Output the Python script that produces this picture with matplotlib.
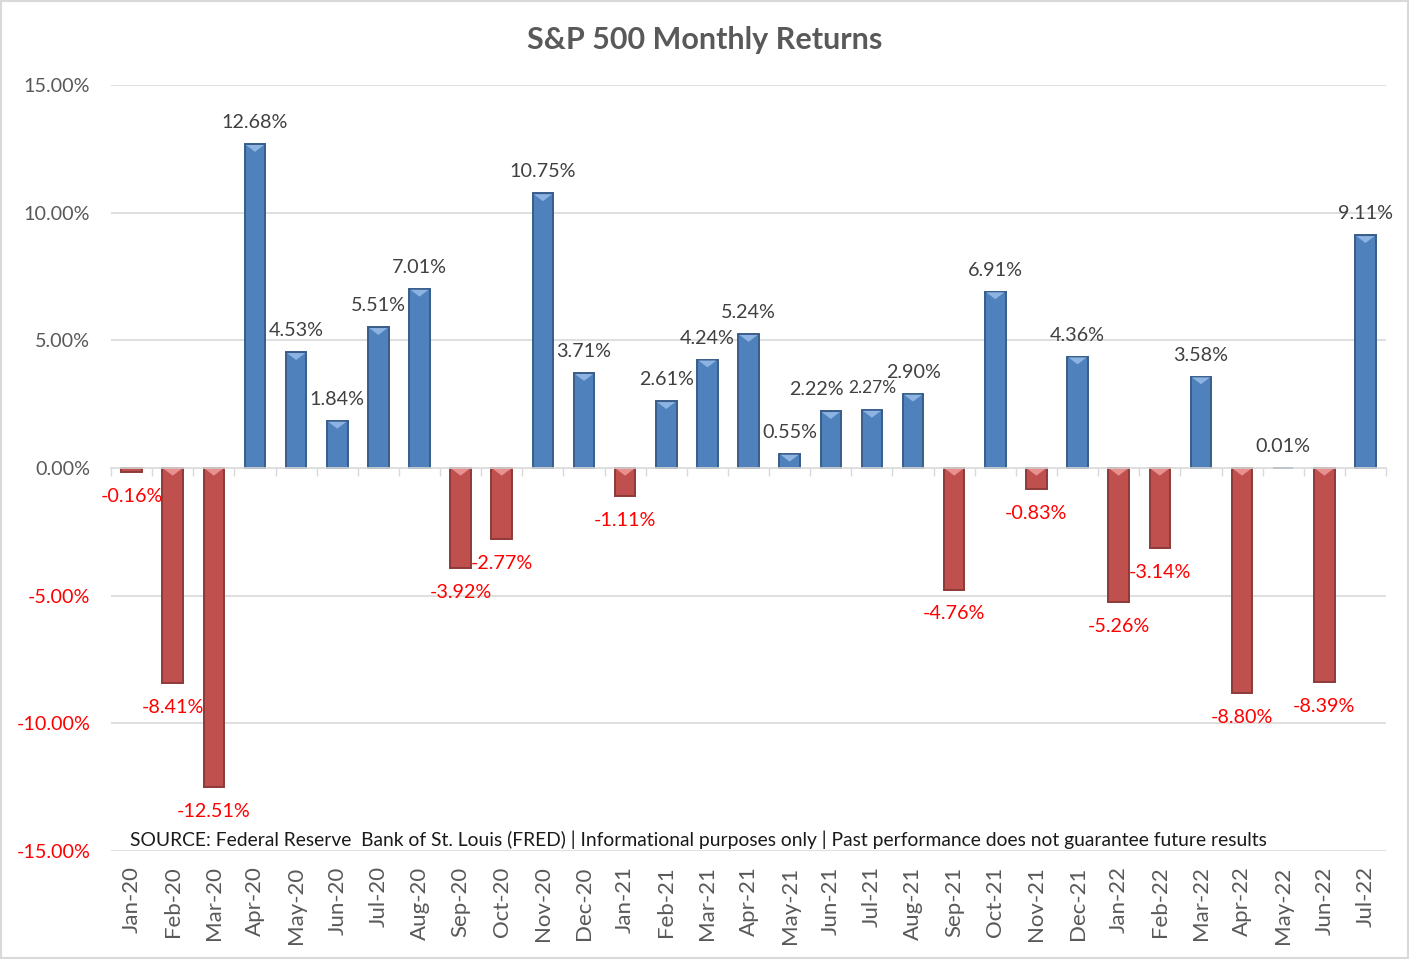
import matplotlib
matplotlib.use('Agg')
from matplotlib import pyplot as plt
from matplotlib.patches import Rectangle

months = [
    'Jan-20', 'Feb-20', 'Mar-20', 'Apr-20', 'May-20', 'Jun-20', 'Jul-20', 'Aug-20',
    'Sep-20', 'Oct-20', 'Nov-20', 'Dec-20', 'Jan-21', 'Feb-21', 'Mar-21', 'Apr-21',
    'May-21', 'Jun-21', 'Jul-21', 'Aug-21', 'Sep-21', 'Oct-21', 'Nov-21', 'Dec-21',
    'Jan-22', 'Feb-22', 'Mar-22', 'Apr-22', 'May-22', 'Jun-22', 'Jul-22',
]
returns = [
    -0.16, -8.41, -12.51, 12.68, 4.53, 1.84, 5.51, 7.01,
    -3.92, -2.77, 10.75, 3.71, -1.11, 2.61, 4.24, 5.24,
    0.55, 2.22, 2.27, 2.90, -4.76, 6.91, -0.83, 4.36,
    -5.26, -3.14, 3.58, -8.80, 0.01, -8.39, 9.11,
]
y_ticks = [-15, -10, -5, 0, 5, 10, 15]

source_note = ('SOURCE: Federal Reserve  Bank of St. Louis (FRED) | Informational purposes only | '
               'Past performance does not guarantee future results')

plt.rcParams['font.family'] = ['Lato', 'DejaVu Sans']

BLUE, BLUE_EDGE, BLUE_LIGHT = '#4F81BD', '#385D8A', '#8DB3E2'
RED, RED_EDGE, RED_LIGHT = '#C0504D', '#8C3A38', '#E8918F'
GREY_TXT = '#595959'
BAR_W = 0.5


def main():
    fig = plt.figure(figsize=(14.09, 9.59), dpi=100)
    fig.patches.append(Rectangle((0.001, 0.001), 0.998, 0.998, transform=fig.transFigure,
                                 fill=False, edgecolor='#D9D9D9', linewidth=1.5))
    ax = fig.add_axes([0.0788, 0.1126, 0.9049, 0.7988])

    x = list(range(len(months)))
    colors = [BLUE if v >= 0 else RED for v in returns]
    edges = [BLUE_EDGE if v >= 0 else RED_EDGE for v in returns]
    ax.bar(x, returns, width=BAR_W, color=colors, edgecolor=edges, linewidth=1.4, zorder=3)

    # bevel: small light triangle at the upper end of each bar
    for i, v in enumerate(returns):
        top = max(v, 0)
        depth = min(0.3, abs(v))
        light = BLUE_LIGHT if v >= 0 else RED_LIGHT
        if abs(v) > 0.3:
            ax.fill([i - BAR_W / 2 + 0.03, i + BAR_W / 2 - 0.03, i],
                    [top - 0.03, top - 0.03, top - depth], color=light, zorder=4, linewidth=0)

    # data labels
    for i, v in enumerate(returns):
        dx = -10 if months[i] == 'Jun-21' else 0
        if v >= 0:
            size = 12.5 if months[i] == 'Jul-21' else 14.2
            ax.annotate(f'{v:.2f}%', xy=(i, v), xytext=(dx, 15.5), textcoords='offset points',
                        ha='center', va='center', fontsize=size, color='#404040')
        else:
            ax.annotate(f'{v:.2f}%', xy=(i, v), xytext=(0, -17.5), textcoords='offset points',
                        ha='center', va='center', fontsize=14.2, color='#FF0000')

    # category labels sit below the plot, the axis line sits at zero
    for i, m in enumerate(months):
        ax.annotate(m, xy=(i, 0), xycoords=('data', 'axes fraction'), xytext=(0, -11),
                    textcoords='offset points', ha='center', va='top', rotation=90,
                    fontsize=16, color=GREY_TXT)

    ax.set_xlim(-0.5, len(months) - 0.5)
    ax.set_ylim(-15, 15)
    ax.set_yticks(y_ticks)
    ax.set_yticklabels([f'{t:.2f}%' for t in y_ticks], fontsize=14.2)
    for lbl, t in zip(ax.get_yticklabels(), y_ticks):
        lbl.set_color('#FF0000' if t < 0 else GREY_TXT)
    ax.tick_params(axis='y', length=0, pad=15)

    ax.set_xticks([b - 0.5 for b in range(len(months) + 1)])
    ax.set_xticklabels([])
    ax.tick_params(axis='x', direction='out', length=6, width=1, color='#D9D9D9')

    for s in ['top', 'right', 'left']:
        ax.spines[s].set_visible(False)
    ax.spines['bottom'].set_position(('data', 0))
    ax.spines['bottom'].set_color('#D9D9D9')
    ax.spines['bottom'].set_linewidth(1.2)
    ax.spines['bottom'].set_zorder(5)

    for t in y_ticks:
        if t != 0:
            ax.axhline(t, color='#D9D9D9', linewidth=1.2, zorder=0)

    fig.text(0.5, 0.958, 'S&P 500 Monthly Returns', ha='center', va='center',
             fontsize=22, fontweight='bold', color=GREY_TXT)
    fig.text(0.0923, 0.124, source_note, ha='left', va='center', fontsize=13.9, color='#1A1A1A')

    fig.savefig('out.png', dpi=100)


main()
